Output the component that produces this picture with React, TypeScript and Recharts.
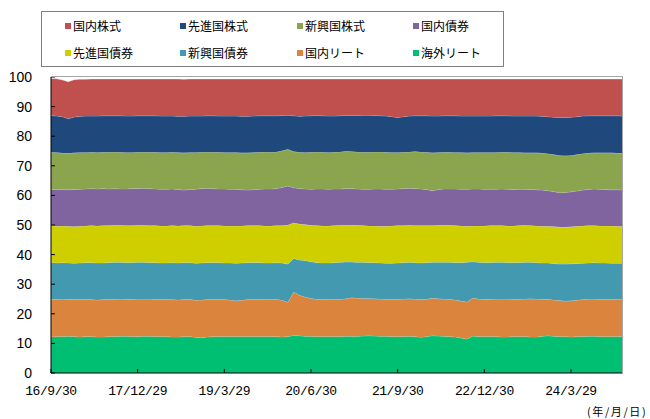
import { AreaChart, Area, XAxis, YAxis } from "recharts"

// month-end observations, 2016/09 .. 2024/12
const months = [
  "16/09", "16/10", "16/11", "16/12",
  "17/01", "17/02", "17/03", "17/04", "17/05", "17/06", "17/07", "17/08", "17/09", "17/10", "17/11", "17/12",
  "18/01", "18/02", "18/03", "18/04", "18/05", "18/06", "18/07", "18/08", "18/09", "18/10", "18/11", "18/12",
  "19/01", "19/02", "19/03", "19/04", "19/05", "19/06", "19/07", "19/08", "19/09", "19/10", "19/11", "19/12",
  "20/01", "20/02", "20/03", "20/04", "20/05", "20/06", "20/07", "20/08", "20/09", "20/10", "20/11", "20/12",
  "21/01", "21/02", "21/03", "21/04", "21/05", "21/06", "21/07", "21/08", "21/09", "21/10", "21/11", "21/12",
  "22/01", "22/02", "22/03", "22/04", "22/05", "22/06", "22/07", "22/08", "22/09", "22/10", "22/11", "22/12",
  "23/01", "23/02", "23/03", "23/04", "23/05", "23/06", "23/07", "23/08", "23/09", "23/10", "23/11", "23/12",
  "24/01", "24/02", "24/03", "24/04", "24/05", "24/06", "24/07", "24/08", "24/09", "24/10", "24/11", "24/12",
]

const tickLabels: Record<string, string> = {
  "16/09": "16/9/30",
  "17/12": "17/12/29",
  "19/03": "19/3/29",
  "20/06": "20/6/30",
  "21/09": "21/9/30",
  "22/12": "22/12/30",
  "24/03": "24/3/29",
}

const yTicks = [0, 10, 20, 30, 40, 50, 60, 70, 80, 90, 100]

// shares (%) per asset class
const foreignReit = [
  12.2, 12.3, 12.3, 12.4, 12.3, 12.2, 12.3, 12.3, 12.2, 12.2,
  12.3, 12.3, 12.4, 12.4, 12.3, 12.3, 12.4, 12.4, 12.3, 12.3,
  12.3, 12.2, 12.2, 12.3, 12.3, 12.1, 11.9, 12.2, 12.3, 12.3,
  12.3, 12.3, 12.3, 12.3, 12.3, 12.3, 12.3, 12.3, 12.3, 12.3,
  12.2, 12.3, 12.7, 12.6, 12.4, 12.4, 12.3, 12.3, 12.3, 12.3,
  12.3, 12.4, 12.4, 12.4, 12.5, 12.6, 12.5, 12.4, 12.4, 12.3,
  12.3, 12.3, 12.4, 12.3, 12.1, 12.3, 12.6, 12.5, 12.4, 12.3,
  12.2, 11.8, 11.5, 12.5, 12.3, 12.3, 12.3, 12.3, 12.2, 12.2,
  12.3, 12.3, 12.3, 12.2, 12.2, 12.4, 12.6, 12.4, 12.3, 12.3,
  12.2, 12.3, 12.3, 12.4, 12.4, 12.3, 12.3, 12.3, 12.3, 12.3,
]
const domesticReit = [
  12.6, 12.6, 12.7, 12.5, 12.5, 12.7, 12.6, 12.5, 12.5, 12.6,
  12.5, 12.6, 12.6, 12.5, 12.6, 12.7, 12.6, 12.6, 12.6, 12.6,
  12.5, 12.6, 12.5, 12.5, 12.6, 12.5, 12.8, 12.6, 12.6, 12.6,
  12.5, 12.4, 12.1, 12.3, 12.5, 12.6, 12.6, 12.5, 12.5, 12.6,
  12.4, 11.6, 14.7, 13.7, 13.3, 12.8, 12.6, 12.6, 12.5, 12.5,
  12.6, 12.7, 13.0, 12.9, 12.7, 12.6, 12.6, 12.6, 12.5, 12.6,
  12.6, 12.7, 12.7, 12.7, 12.7, 12.6, 12.7, 12.6, 12.6, 12.6,
  12.5, 12.5, 12.5, 12.8, 12.7, 12.6, 12.6, 12.7, 12.8, 12.8,
  12.6, 12.6, 12.7, 12.9, 12.8, 12.5, 12.3, 12.3, 12.2, 12.0,
  12.2, 12.3, 12.5, 12.6, 12.6, 12.6, 12.6, 12.6, 12.6, 12.5,
]
const emergingBond = [
  12.6, 12.3, 12.3, 12.3, 12.3, 12.3, 12.4, 12.5, 12.5, 12.4,
  12.5, 12.5, 12.4, 12.4, 12.4, 12.4, 12.4, 12.3, 12.4, 12.3,
  12.4, 12.5, 12.5, 12.5, 12.4, 12.5, 12.5, 12.5, 12.4, 12.4,
  12.4, 12.5, 12.7, 12.6, 12.5, 12.4, 12.4, 12.4, 12.4, 12.4,
  12.6, 12.9, 11.3, 11.9, 12.3, 12.4, 12.4, 12.3, 12.4, 12.5,
  12.5, 12.4, 12.1, 12.1, 12.2, 12.1, 12.2, 12.2, 12.2, 12.2,
  12.3, 12.3, 12.3, 12.3, 12.4, 12.4, 12.1, 12.3, 12.4, 12.5,
  12.6, 13.0, 13.4, 12.3, 12.4, 12.4, 12.4, 12.4, 12.4, 12.3,
  12.4, 12.4, 12.4, 12.3, 12.3, 12.3, 12.3, 12.3, 12.3, 12.5,
  12.5, 12.4, 12.3, 12.2, 12.3, 12.3, 12.3, 12.2, 12.2, 12.3,
]
const developedBond = [
  12.5, 12.4, 12.4, 12.4, 12.4, 12.4, 12.4, 12.5, 12.5, 12.6,
  12.5, 12.5, 12.5, 12.5, 12.5, 12.5, 12.5, 12.5, 12.5, 12.5,
  12.5, 12.5, 12.5, 12.5, 12.5, 12.5, 12.5, 12.5, 12.5, 12.5,
  12.5, 12.5, 12.6, 12.5, 12.5, 12.5, 12.5, 12.5, 12.5, 12.5,
  12.6, 13.2, 12.1, 12.1, 12.2, 12.3, 12.5, 12.5, 12.5, 12.5,
  12.5, 12.4, 12.5, 12.5, 12.4, 12.4, 12.4, 12.4, 12.5, 12.6,
  12.6, 12.5, 12.5, 12.5, 12.6, 12.5, 12.4, 12.5, 12.5, 12.5,
  12.5, 12.4, 12.2, 12.1, 12.3, 12.4, 12.5, 12.4, 12.4, 12.4,
  12.4, 12.5, 12.5, 12.4, 12.4, 12.4, 12.4, 12.5, 12.5, 12.5,
  12.5, 12.6, 12.6, 12.6, 12.5, 12.5, 12.5, 12.6, 12.5, 12.5,
]
const domesticBond = [
  12.2, 12.3, 12.3, 12.3, 12.5, 12.5, 12.5, 12.5, 12.5, 12.5,
  12.4, 12.4, 12.3, 12.4, 12.5, 12.4, 12.5, 12.5, 12.4, 12.4,
  12.4, 12.4, 12.3, 12.0, 12.2, 12.5, 12.6, 12.6, 12.5, 12.4,
  12.5, 12.4, 12.4, 12.2, 12.0, 12.1, 12.3, 12.5, 12.5, 12.5,
  12.9, 13.2, 11.8, 12.0, 12.0, 12.2, 12.4, 12.5, 12.4, 12.4,
  12.3, 12.4, 12.3, 12.3, 12.3, 12.4, 12.5, 12.6, 12.5, 12.4,
  12.4, 12.5, 12.5, 12.5, 12.4, 12.2, 11.8, 12.1, 12.3, 12.3,
  12.4, 12.4, 12.5, 12.5, 12.5, 12.4, 12.3, 12.3, 12.4, 12.4,
  12.3, 12.3, 12.2, 12.2, 12.2, 12.2, 12.0, 11.8, 11.6, 11.7,
  11.8, 11.9, 12.1, 12.2, 12.4, 12.4, 12.3, 12.2, 12.3, 12.2,
]
const emergingEquity = [
  12.5, 12.6, 12.3, 12.3, 12.4, 12.4, 12.3, 12.3, 12.3, 12.3,
  12.4, 12.4, 12.4, 12.3, 12.2, 12.3, 12.3, 12.3, 12.4, 12.4,
  12.4, 12.4, 12.5, 12.6, 12.5, 12.4, 12.3, 12.3, 12.3, 12.4,
  12.3, 12.4, 12.4, 12.5, 12.6, 12.6, 12.5, 12.5, 12.4, 12.4,
  12.4, 12.4, 12.2, 12.3, 12.3, 12.5, 12.5, 12.4, 12.4, 12.4,
  12.5, 12.6, 12.5, 12.5, 12.5, 12.5, 12.5, 12.5, 12.5, 12.4,
  12.3, 12.3, 12.3, 12.5, 12.5, 12.6, 12.8, 12.5, 12.4, 12.4,
  12.3, 12.4, 12.3, 12.3, 12.3, 12.4, 12.4, 12.4, 12.4, 12.5,
  12.5, 12.4, 12.3, 12.4, 12.5, 12.5, 12.5, 12.5, 12.6, 12.4,
  12.3, 12.3, 12.3, 12.3, 12.2, 12.3, 12.4, 12.5, 12.4, 12.5,
]
const developedEquity = [
  12.4, 12.3, 12.3, 11.7, 12.1, 12.2, 12.3, 12.2, 12.3, 12.3,
  12.3, 12.2, 12.3, 12.3, 12.3, 12.3, 12.2, 12.3, 12.3, 12.3,
  12.3, 12.2, 12.2, 12.3, 12.3, 12.3, 12.2, 12.2, 12.3, 12.2,
  12.3, 12.3, 12.3, 12.3, 12.3, 12.3, 12.3, 12.2, 12.3, 12.2,
  11.9, 11.5, 12.1, 12.1, 12.3, 12.3, 12.3, 12.3, 12.3, 12.2,
  12.2, 12.1, 12.2, 12.3, 12.5, 12.5, 12.3, 12.2, 12.2, 12.1,
  11.8, 12.0, 12.1, 12.1, 12.2, 12.3, 12.4, 12.3, 12.3, 12.3,
  12.4, 12.3, 12.4, 12.3, 12.3, 12.3, 12.3, 12.4, 12.3, 12.3,
  12.3, 12.3, 12.4, 12.4, 12.4, 12.4, 12.5, 12.6, 12.8, 12.9,
  12.9, 12.8, 12.7, 12.6, 12.5, 12.5, 12.5, 12.5, 12.6, 12.5,
]
const domesticEquity = [
  12.5, 12.6, 12.4, 12.5, 12.6, 12.5, 12.4, 12.5, 12.5, 12.4,
  12.4, 12.4, 12.4, 12.5, 12.5, 12.4, 12.4, 12.4, 12.4, 12.5,
  12.5, 12.5, 12.6, 12.5, 12.5, 12.5, 12.5, 12.4, 12.4, 12.5,
  12.5, 12.5, 12.5, 12.6, 12.6, 12.5, 12.4, 12.4, 12.4, 12.4,
  12.3, 12.2, 12.4, 12.6, 12.5, 12.4, 12.3, 12.4, 12.5, 12.5,
  12.4, 12.3, 12.3, 12.3, 12.2, 12.2, 12.3, 12.4, 12.5, 12.7,
  13.0, 12.7, 12.5, 12.4, 12.4, 12.4, 12.5, 12.5, 12.4, 12.4,
  12.4, 12.5, 12.5, 12.5, 12.5, 12.5, 12.5, 12.4, 12.4, 12.4,
  12.5, 12.5, 12.5, 12.5, 12.5, 12.6, 12.7, 12.9, 13.0, 13.0,
  12.9, 12.7, 12.5, 12.4, 12.4, 12.4, 12.4, 12.4, 12.4, 12.5,
]

// stacking order, bottom to top
const series = [
  { key: "foreignReit", name: "海外リート", color: "#00BE72", values: foreignReit },
  { key: "domesticReit", name: "国内リート", color: "#DB843E", values: domesticReit },
  { key: "emergingBond", name: "新興国債券", color: "#4299B0", values: emergingBond },
  { key: "developedBond", name: "先進国債券", color: "#CFCF00", values: developedBond },
  { key: "domesticBond", name: "国内債券", color: "#7F649F", values: domesticBond },
  { key: "emergingEquity", name: "新興国株式", color: "#8BA54F", values: emergingEquity },
  { key: "developedEquity", name: "先進国株式", color: "#1F497D", values: developedEquity },
  { key: "domesticEquity", name: "国内株式", color: "#C0504D", values: domesticEquity },
]

const data = months.map((month, i) => {
  const row: Record<string, string | number> = { month }
  series.forEach((s) => (row[s.key] = s.values[i]))
  return row
})

const legendItems = [...series].reverse()

function Legend() {
  return (
    <div
      style={{
        position: "absolute",
        left: 41,
        top: 11,
        width: 461,
        height: 54,
        border: "1px solid #7f7f7f",
        fontFamily: "'Noto Sans CJK JP', sans-serif",
        fontSize: 12,
        color: "#000",
      }}
    >
      {legendItems.map((s, i) => (
        <div
          key={s.key}
          style={{
            position: "absolute",
            left: [23, 138, 255, 371][i % 4],
            top: i < 4 ? 6 : 33,
            display: "flex",
            alignItems: "center",
            lineHeight: "16px",
            whiteSpace: "nowrap",
          }}
        >
          <span style={{ width: 6, height: 6, background: s.color, marginRight: 2 }} />
          {s.name}
        </div>
      ))}
    </div>
  )
}

export default function App() {
  return (
    <div style={{ position: "relative", width: 650, height: 419, background: "#fff" }}>
      <style>{`body { margin: 0; }`}</style>
      <Legend />
      <AreaChart
        width={650}
        height={419}
        data={data}
        margin={{ top: 77, right: 27, bottom: 16, left: 1 }}
      >
        <XAxis
          dataKey="month"
          ticks={Object.keys(tickLabels)}
          tickFormatter={(v) => tickLabels[v] ?? ""}
          interval={0}
          height={30}
          tickSize={-4}
          tickMargin={17}
          axisLine={{ stroke: "#000" }}
          tickLine={{ stroke: "#000" }}
          tick={{ fontSize: 13, fontFamily: "'Liberation Mono', monospace", fill: "#000", letterSpacing: -0.45 }}
        />
        <YAxis
          type="number"
          domain={[0, 100]}
          ticks={yTicks}
          interval={0}
          width={50}
          tickSize={-4}
          tickMargin={23}
          axisLine={{ stroke: "#000" }}
          tickLine={{ stroke: "#000" }}
          tick={{ fontSize: 14, fontFamily: "'Liberation Sans', Arial, sans-serif", fill: "#000" }}
        />
        {series.map((s) => (
          <Area
            key={s.key}
            type="linear"
            dataKey={s.key}
            name={s.name}
            stackId="mix"
            fill={s.color}
            fillOpacity={1}
            stroke="#ffffff"
            strokeOpacity={0.3}
            strokeWidth={1}
            isAnimationActive={false}
          />
        ))}
      </AreaChart>
      {/* grey frame on the top and right of the plot area */}
      <div
        style={{
          position: "absolute",
          left: 51,
          top: 76,
          width: 571,
          height: 297,
          borderTop: "1px solid #a6a6a6",
          borderRight: "1px solid #a6a6a6",
          pointerEvents: "none",
        }}
      />
      <div
        style={{
          position: "absolute",
          left: 587,
          top: 404,
          fontFamily: "'Noto Sans CJK JP', sans-serif",
          fontSize: 11,
          letterSpacing: 1.6,
          lineHeight: "14px",
          whiteSpace: "nowrap",
          color: "#000",
        }}
      >
        (年/月/日)
      </div>
    </div>
  )
}
